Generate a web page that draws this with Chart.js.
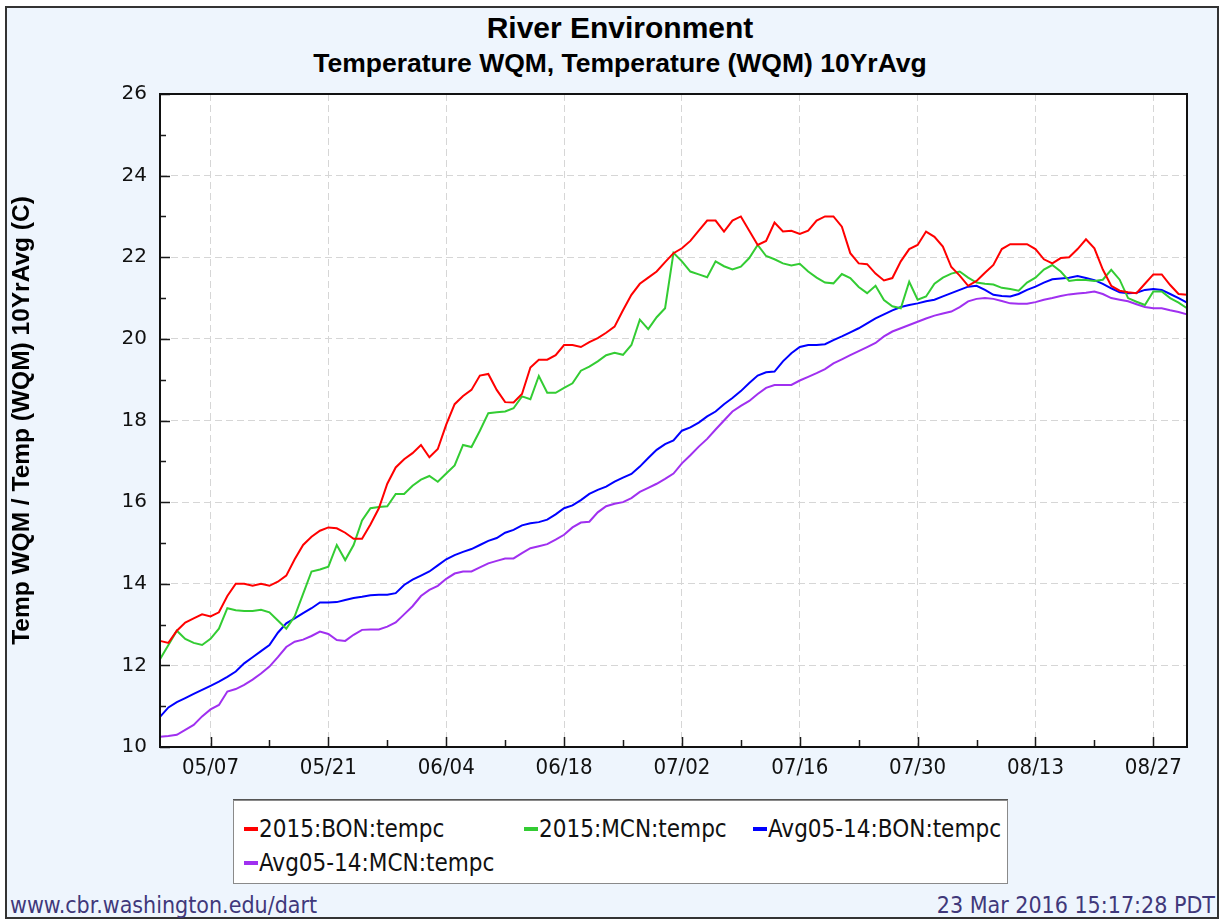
<!DOCTYPE html>
<html>
<head>
<meta charset="utf-8">
<script src="https://cdn.jsdelivr.net/npm/chart.js@4/dist/chart.umd.min.js"></script>
<style>
  html, body { margin: 0; padding: 0; background: #ffffff; width: 1222px; height: 920px; overflow: hidden; }
  #frame { position: absolute; left: 5px; top: 6px; width: 1210px; height: 909px; border: 2px solid #333; background: #eef5fd; }
  #chart { position: absolute; left: 0; top: 0; }
  .title { position: absolute; left: 0; width: 1240px; text-align: center; font-family: "Liberation Sans", Arial, sans-serif; font-weight: bold; color: #000; white-space: nowrap; }
  #t1 { top: 11px; font-size: 30px; line-height: 34px; }
  #t2 { top: 48px; font-size: 26.5px; line-height: 30px; }
  #legend { position: absolute; left: 233px; top: 800px; width: 773px; height: 82px; background: #fff; border: 1px solid #8a8a8a; box-shadow: 0 -1px 0 #555; }
  .li { position: absolute; height: 28px; display: flex; align-items: center; font-family: "DejaVu Sans Condensed", "DejaVu Sans", sans-serif; font-size: 24px; color: #111; white-space: nowrap; }
  .sw { display: inline-block; width: 14px; height: 4px; margin-right: 1px; }
  .foot { position: absolute; top: 892px; font-family: "DejaVu Sans Condensed", "DejaVu Sans", sans-serif; font-size: 23px; line-height: 26px; color: #40387a; white-space: nowrap; }
  #f1 { left: 10px; }
  #f2 { right: 7px; }
</style>
</head>
<body>
<div id="frame"></div>
<div class="title" id="t1">River Environment</div>
<div class="title" id="t2">Temperature WQM, Temperature (WQM) 10YrAvg</div>
<canvas id="chart" width="1222" height="790"></canvas>
<div id="legend"></div>
<div class="foot" id="f1">www.cbr.washington.edu/dart</div>
<div class="foot" id="f2">23 Mar 2016 15:17:28 PDT</div>
<script>
// ---- categories: daily dates 05/01 .. 08/31 (2015) ----
const dates = [];
for (let d = new Date(2015, 4, 1); d <= new Date(2015, 7, 31); d.setDate(d.getDate() + 1)) {
  dates.push(String(d.getMonth() + 1).padStart(2, '0') + '/' + String(d.getDate()).padStart(2, '0'));
}
const majorTicks = ['05/07', '05/21', '06/04', '06/18', '07/02', '07/16', '07/30', '08/13', '08/27'];
const minorTicks = ['05/14', '05/28', '06/11', '06/25', '07/09', '07/23', '08/06', '08/20'];
const yMin = 10, yMax = 26;

// ---- series values (deg C), one per day ----
const bon2015 = [
  12.6, 12.55, 12.85, 13.05, 13.15, 13.25, 13.2, 13.3, 13.7, 14.0,
  14.0, 13.95, 14.0, 13.95, 14.05, 14.2, 14.6, 14.95, 15.15, 15.3,
  15.38, 15.36, 15.25, 15.1, 15.1, 15.45, 15.85, 16.45, 16.85, 17.05,
  17.2, 17.4, 17.1, 17.3, 17.9, 18.4, 18.6, 18.75, 19.1, 19.14,
  18.75, 18.45, 18.44, 18.65, 19.3, 19.49, 19.49, 19.6, 19.85, 19.85,
  19.8, 19.92, 20.02, 20.15, 20.3, 20.7, 21.08, 21.35, 21.5, 21.65,
  21.88, 22.1, 22.22, 22.4, 22.65, 22.9, 22.9, 22.63, 22.9, 23.0,
  22.65, 22.3, 22.4, 22.85, 22.63, 22.65, 22.57, 22.65, 22.9, 23.0,
  23.0, 22.75, 22.1, 21.85, 21.83, 21.6, 21.43, 21.49, 21.9, 22.2,
  22.3, 22.63, 22.5, 22.26, 21.76, 21.55, 21.3, 21.42, 21.62, 21.81,
  22.2, 22.32, 22.32, 22.32, 22.2, 21.95, 21.85, 21.98, 22.0, 22.2,
  22.44, 22.22, 21.7, 21.3, 21.18, 21.14, 21.12, 21.35, 21.58, 21.58,
  21.32, 21.1, 21.08
];
const mcn2015 = [
  12.15, 12.5, 12.85, 12.65, 12.55, 12.5, 12.65, 12.9, 13.4, 13.35,
  13.33, 13.33, 13.36, 13.3, 13.1, 12.9, 13.2, 13.75, 14.3, 14.35,
  14.42, 14.95, 14.58, 14.95, 15.55, 15.85, 15.88, 15.9, 16.2, 16.2,
  16.4, 16.55, 16.64, 16.5, 16.7, 16.9, 17.4, 17.35, 17.75, 18.18,
  18.2, 18.22, 18.3, 18.59, 18.52, 19.09, 18.68, 18.68, 18.8, 18.91,
  19.22, 19.32, 19.45, 19.6, 19.66, 19.61, 19.85, 20.47, 20.24, 20.53,
  20.75, 22.11, 21.9, 21.65, 21.58, 21.51, 21.9, 21.78, 21.7, 21.77,
  21.98, 22.3, 22.03, 21.95, 21.85, 21.8, 21.84, 21.65, 21.5, 21.38,
  21.36, 21.59, 21.49, 21.27, 21.12, 21.3, 20.95, 20.8, 20.75, 21.4,
  20.96, 21.04, 21.35, 21.5, 21.6, 21.65, 21.5, 21.38, 21.35, 21.33,
  21.25, 21.22, 21.18, 21.38, 21.5, 21.7, 21.81, 21.65, 21.42, 21.45,
  21.44, 21.42, 21.45, 21.69, 21.45, 21.0, 20.91, 20.83, 21.16, 21.16,
  21.0, 20.89, 20.75
];
const bonAvg = [
  10.74, 10.97, 11.1, 11.2, 11.3, 11.4, 11.5, 11.6, 11.72, 11.85,
  12.05, 12.2, 12.35, 12.5, 12.8, 13.03, 13.15, 13.28, 13.4, 13.54,
  13.54, 13.55, 13.6, 13.65, 13.68, 13.72, 13.73, 13.73, 13.77, 13.97,
  14.1, 14.2, 14.3, 14.45, 14.6, 14.7, 14.78, 14.85, 14.95, 15.05,
  15.12, 15.25, 15.32, 15.43, 15.48, 15.51, 15.57, 15.7, 15.85, 15.92,
  16.05, 16.2, 16.3, 16.38, 16.5, 16.6, 16.69, 16.87, 17.08, 17.28,
  17.42, 17.51, 17.75, 17.83, 17.95, 18.1, 18.22, 18.4, 18.55, 18.72,
  18.92, 19.1, 19.18, 19.2, 19.45, 19.65, 19.8, 19.85, 19.85, 19.87,
  19.97, 20.06, 20.16, 20.26, 20.38, 20.5, 20.6, 20.7, 20.78, 20.83,
  20.87, 20.92, 20.96, 21.04, 21.12, 21.2, 21.28, 21.3, 21.2, 21.08,
  21.05, 21.04, 21.1, 21.2, 21.28, 21.38, 21.46, 21.48, 21.5, 21.54,
  21.49, 21.44, 21.35, 21.24, 21.14, 21.12, 21.13, 21.2, 21.22, 21.2,
  21.1, 21.0, 20.89
];
const mcnAvg = [
  10.25, 10.27, 10.3, 10.42, 10.54, 10.75, 10.92, 11.03, 11.36, 11.42,
  11.52, 11.65, 11.8, 11.97, 12.2, 12.45, 12.58, 12.63, 12.72, 12.83,
  12.77, 12.62, 12.6, 12.75, 12.87, 12.88, 12.88, 12.95, 13.05, 13.25,
  13.45, 13.7, 13.85, 13.95, 14.12, 14.25, 14.3, 14.3, 14.4, 14.5,
  14.56, 14.62, 14.62, 14.75, 14.87, 14.92, 14.97, 15.08, 15.2, 15.38,
  15.5, 15.52, 15.75, 15.9, 15.96, 16.0, 16.1, 16.25, 16.35, 16.45,
  16.57, 16.7, 16.95, 17.15, 17.36, 17.55, 17.78, 18.0, 18.22, 18.36,
  18.48, 18.65, 18.8, 18.87, 18.87, 18.87, 18.98, 19.07, 19.16, 19.26,
  19.4, 19.5, 19.6, 19.7, 19.8, 19.9, 20.06, 20.18, 20.26, 20.34,
  20.42, 20.5, 20.57, 20.62, 20.67, 20.78, 20.92, 20.98, 21.0, 20.98,
  20.93, 20.87, 20.86, 20.86, 20.9, 20.96, 21.0, 21.05, 21.09, 21.11,
  21.13, 21.16, 21.1, 21.0, 20.96, 20.92, 20.85, 20.78, 20.75, 20.75,
  20.7, 20.66, 20.6
];

const seriesLabels = ['2015:BON:tempc', '2015:MCN:tempc', 'Avg05-14:BON:tempc', 'Avg05-14:MCN:tempc'];
const seriesColors = ['#ff0000', '#33cc33', '#0000ff', '#a030f0'];
const seriesData = [bon2015, mcn2015, bonAvg, mcnAvg];

const GRID = '#d6d6d6';
const CLEAR = 'rgba(0,0,0,0)';

const framePlugin = {
  id: 'framePlugin',
  beforeDraw(chart) {
    const { ctx, chartArea: a } = chart;
    ctx.save();
    ctx.fillStyle = '#ffffff';
    ctx.fillRect(a.left, a.top, a.right - a.left, a.bottom - a.top);
    ctx.restore();
  },
  afterDraw(chart) {
    const { ctx, chartArea: a } = chart;
    const xs = chart.scales.x, ys = chart.scales.y;
    ctx.save();
    ctx.strokeStyle = '#1a1a1a';
    ctx.lineWidth = 1.5;
    ctx.beginPath();
    for (let v = yMin; v <= yMax; v += 1) {
      const py = Math.round(ys.getPixelForValue(v)) + 0.5;
      const len = (v % 2 === 0) ? 10 : 6;
      ctx.moveTo(a.left, py); ctx.lineTo(a.left + len, py);
    }
    dates.forEach((d, i) => {
      let len = 0;
      if (majorTicks.includes(d)) len = 10; else if (minorTicks.includes(d)) len = 7;
      if (!len) return;
      const px = Math.round(xs.getPixelForValue(i)) + 0.5;
      ctx.moveTo(px, a.bottom); ctx.lineTo(px, a.bottom - len);
    });
    ctx.stroke();
    ctx.lineWidth = 2;
    ctx.strokeStyle = '#111';
    ctx.strokeRect(a.left, a.top, a.right - a.left, a.bottom - a.top);
    ctx.restore();
  }
};

const chart = new Chart(document.getElementById('chart').getContext('2d'), {
  type: 'line',
  data: {
    labels: dates,
    datasets: seriesData.map((arr, k) => ({
      label: seriesLabels[k],
      data: arr,
      borderColor: seriesColors[k],
      backgroundColor: seriesColors[k],
      borderWidth: 2,
      pointRadius: 0,
      tension: 0,
      fill: false
    }))
  },
  options: {
    responsive: false,
    animation: false,
    layout: { padding: { top: 94, left: 6, right: 35, bottom: 0 } },
    plugins: { legend: { display: false }, tooltip: { enabled: false }, title: { display: false } },
    scales: {
      x: {
        type: 'category',
        offset: false,
        grid: {
          drawTicks: false,
          lineWidth: 1,
          color: (c) => (c.tick && majorTicks.includes(dates[c.index])) ? GRID : CLEAR
        },
        border: { display: false, dash: [7, 4] },
        ticks: {
          autoSkip: false, maxRotation: 0, minRotation: 0, padding: 8,
          font: { family: 'DejaVu Sans Condensed', size: 22 }, color: '#111',
          callback: (v, i) => majorTicks.includes(dates[i]) ? dates[i] : ''
        },
        afterFit: (s) => { s.height = 43; }
      },
      y: {
        min: yMin, max: yMax,
        grid: {
          drawTicks: false,
          lineWidth: 1,
          color: (c) => (c.tick && c.tick.value % 2 === 0 && c.tick.value > yMin && c.tick.value < yMax) ? GRID : CLEAR
        },
        border: { display: false, dash: [7, 4] },
        ticks: {
          stepSize: 1, padding: 13,
          font: { family: 'DejaVu Sans', size: 20 }, color: '#111',
          callback: (v) => (v % 2 === 0) ? String(v) : ''
        },
        title: {
          display: true,
          text: 'Temp WQM / Temp (WQM) 10YrAvg (C)',
          font: { family: 'Liberation Sans', size: 24.5, weight: 'bold' },
          color: '#000',
          padding: { top: 2, bottom: 0 }
        },
        afterFit: (s) => { s.width = 154; }
      }
    }
  },
  plugins: [framePlugin]
});

// ---- legend built from the chart's datasets ----
const legendSlots = [[10, 14], [290, 14], [519, 14], [10, 48]];
const legendEl = document.getElementById('legend');
chart.data.datasets.forEach((ds, k) => {
  const item = document.createElement('div');
  item.className = 'li';
  item.style.left = legendSlots[k][0] + 'px';
  item.style.top = legendSlots[k][1] + 'px';
  const sw = document.createElement('span');
  sw.className = 'sw';
  sw.style.background = ds.borderColor;
  const tx = document.createElement('span');
  tx.textContent = ds.label;
  item.appendChild(sw);
  item.appendChild(tx);
  legendEl.appendChild(item);
});
</script>
</body>
</html>
